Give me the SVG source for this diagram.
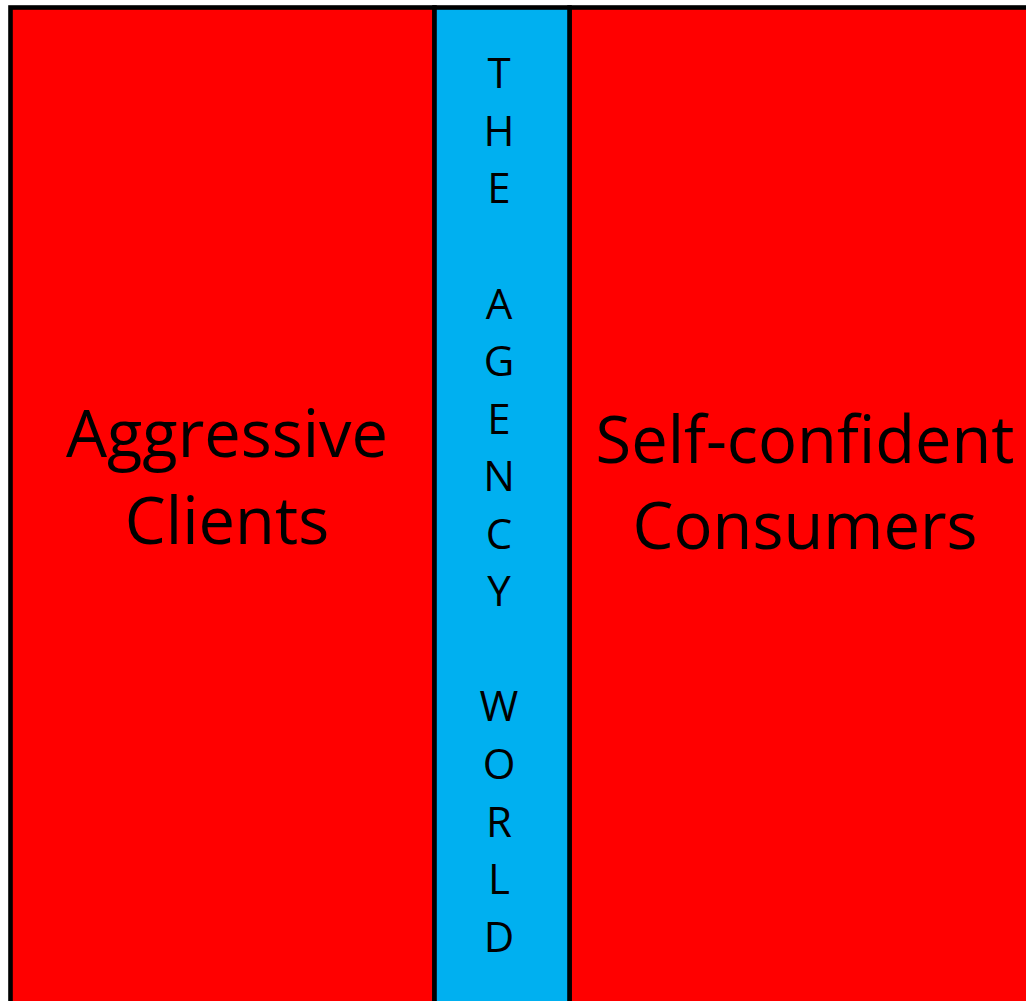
<svg xmlns="http://www.w3.org/2000/svg" width="1026" height="1001" viewBox="0 0 1026 1001">
  <style>
    .panel { stroke: #000; stroke-width: 4.6; }
    .red { fill: #FF0000; }
    .blue { fill: #00B0F0; }
    .big { font-family: "Open Sans", "Liberation Sans", sans-serif; font-size: 65px; fill: #000; text-anchor: middle; }
    .letter { font-family: "Open Sans", "Liberation Sans", sans-serif; font-size: 42px; fill: #000; text-anchor: middle; }
  </style>
  <rect width="1026" height="1001" fill="#fff"/>

  <g id="clients">
    <rect class="panel red" x="10.5" y="7.5" width="424" height="1010"/>
    <text class="big" x="227" y="456.5">Aggressive</text>
    <text class="big" x="227" y="543.5">Clients</text>
  </g>

  <g id="consumers">
    <rect class="panel red" x="569.5" y="7.5" width="480" height="1010"/>
    <text class="big" x="805" y="463">Self-confident</text>
    <text class="big" x="805" y="548.5">Consumers</text>
  </g>

  <g id="agency-world">
    <rect class="panel blue" x="434.5" y="7.5" width="135" height="1010"/>
    <text class="letter" x="499" y="88.3">T</text>
    <text class="letter" x="499" y="145.9">H</text>
    <text class="letter" x="499" y="203.4">E</text>
    <text class="letter" x="499" y="318.5">A</text>
    <text class="letter" x="499" y="376.1">G</text>
    <text class="letter" x="499" y="433.6">E</text>
    <text class="letter" x="499" y="491.2">N</text>
    <text class="letter" x="499" y="548.7">C</text>
    <text class="letter" x="499" y="606.3">Y</text>
    <text class="letter" x="499" y="721.4">W</text>
    <text class="letter" x="499" y="778.9">O</text>
    <text class="letter" x="499" y="836.5">R</text>
    <text class="letter" x="499" y="894.0">L</text>
    <text class="letter" x="499" y="951.6">D</text>
  </g>

  <g id="connectors"></g>
</svg>
